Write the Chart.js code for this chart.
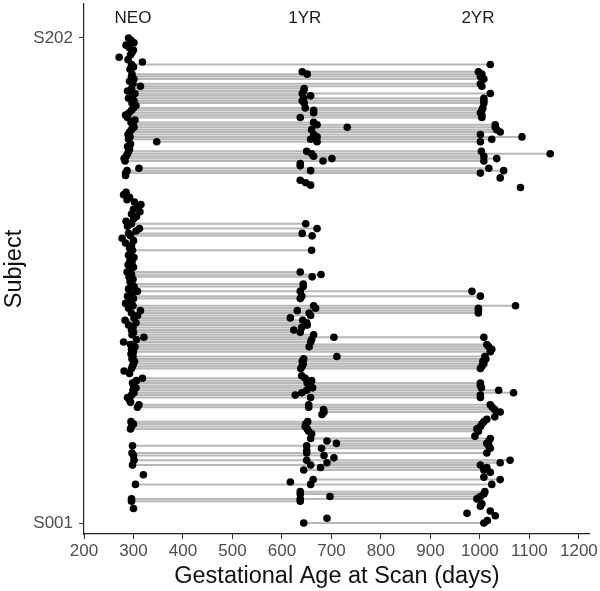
<!DOCTYPE html>
<html>
<head>
<meta charset="utf-8">
<script src="https://cdn.jsdelivr.net/npm/chart.js@4.4.0/dist/chart.umd.min.js"></script>
<style>
  body { margin: 0; background: #fff; }
  #wrap { width: 600px; height: 591px; }
</style>
</head>
<body>
<div id="wrap"><canvas id="scanChart" width="600" height="591"></canvas></div>
<script>
// Gestational age (days) at each scan, one entry per subject, index 0 = S001
const neoAge = [
  null, null, null, null, null, null, 300, null, null, 296,
  296, null, null, null, null, null, 304, null, null, null,
  320, null, null, null, 298, null, 301, null, 300, 297,
  null, null, 298, null, null, null, null, null, null, 294,
  296, 300, 295, null, null, null, null, null, 308, 311,
  294, 292, 288, 296, 301, 299, 305, 300, 298, 306,
  318, null, 292, 281, 296, 298, 300, 302, 297, 299,
  295, 300, 296, 303, 294, 280, 306, 321, 297, 300,
  296, 299, 290, 305, 283, 301, 308, 296, 314, 290,
  299, 284, 296, 300, 288, 297, 308, 290, 301, 297,
  293, 299, 291, 296, 287, 294, 300, 289, 297, 293,
  301, 290, 295, 298, 292, 296, 284, 300, 277, 294,
  290, 305, 312, 288, 296, 285, 300, 306, 296, 313,
  300, 310, 315, 302, 287, 292, 280, 285, null, null,
  null, null, null, null, 284, 284, 287, 311, null, null,
  283, 281, 285, 288, 290, 292, 288, 294, 347, 290,
  293, 289, 292, 296, 301, 299, 295, 303, 288, 284,
  291, 296, 300, 305, 297, 301, 290, 298, 303, 288,
  296, 314, 299, 292, 301, 296, 297, null, 293, 300,
  296, 318, 289, 271, 294, 297, 300, 291, 285, 301,
  295, 290
];
const yr1Age = [
  644, null, 691, null, null, null, null, null, null, 637,
  637, 697, 637, 637, null, null, 658, 617, 663, null,
  null, null, 644, 678, 658, 691, 650, 705, 685, 650,
  650, 680, 650, 710, 691, 658, null, 660, 654, 651,
  647, 648, 652, null, null, 681, 685, 684, 654, 654,
  null, null, 658, 627, 640, 650, 662, 655, 651, 660,
  647, 640, null, null, 638, 641, 643, 641, 644, 711,
  null, null, null, 655, null, 658, 660, 705, 664, 637,
  624, 640, 651, 650, 642, 617, 658, 655, 631, 668,
  664, null, null, 637, 640, null, 637, null, 643, 643,
  null, null, 661, 679, 637, null, null, null, null, null,
  null, null, null, 660, null, null, null, null, null, 661,
  641, null, 671, null, 648, null, null, null, null, null,
  null, null, null, null, null, null, null, null, null, null,
  658, 648, 637, null, null, null, 658, null, 637, 637,
  683, 701, 664, 660, 650, null, null, null, 671, 658,
  671, 664, null, 660, 732, 671, 664, null, 637, null,
  664, 664, 647, null, 645, 641, 644, 658, 641, 644,
  645, null, null, null, null, null, 651, 641, null, null,
  null, null, null, null, null, null, null, null, null, null,
  null, null
];
const yr2Age = [
  1008, 1015, null, 1031, 974, 1021, null, 1001, 1004, null,
  994, 1001, 1008, 1010, null, null, 1024, null, 1041, 1008,
  null, 1021, 1008, 1014, 1001, 1041, 1061, null, null, 1014,
  null, 1021, 1018, 1014, 1018, 1021, 990, null, 997, 994,
  1001, 1004, 1008, 1014, 1030, null, 1041, 1030, 1025, 1021,
  null, null, 1001, 1001, 1068, 1038, 1003, 1001, 1001, null,
  null, null, null, null, 1001, 1004, 1008, 1006, 1012, 1010,
  null, 1021, 1024, 1018, 1014, null, null, 1008, null, null,
  null, null, null, null, null, null, null, 997, 997, 997,
  1072, null, null, null, 1001, null, 984, null, null, null,
  null, null, null, null, null, null, null, null, null, null,
  null, null, null, null, null, null, null, null, null, null,
  null, null, null, null, null, null, null, null, null, null,
  null, null, null, null, null, null, null, null, null, 1082,
  null, null, null, 1041, null, 1001, 1048, 1018, null, null,
  1008, 1034, 1008, 1142, 1003, null, null, null, 1001, 1024,
  1085, 1001, 1041, 1034, 1031, 1031, null, null, 1004, 1004,
  1001, 1004, 1006, null, 1008, 1008, 1008, null, 1021, null,
  null, 1004, 1001, null, 1008, 1001, 1004, 997, null, null,
  1021, null, null, null, null, null, null, null, null, null,
  null, null
];

const phaseLabels = ['NEO', '1YR', '2YR'];
const phaseLabelAge = [299, 646, 996];
const phaseLabelRow = 210;

const xTickValues = [200, 300, 400, 500, 600, 700, 800, 900, 1000, 1100, 1200];
const yTickSubjects = [1, 202];

const FONT = '"Liberation Sans", Arial, Helvetica, sans-serif';

// build scan points and the grey span line of each subject
const scanPoints = [];
const spanLines = [];
for (let i = 0; i < neoAge.length; i++) {
    const row = i + 1;
    const ages = [neoAge[i], yr1Age[i], yr2Age[i]].filter(v => v !== null);
    ages.forEach(a => scanPoints.push({ x: a, y: row }));
    if (ages.length > 1) {
        const lo = Math.min(...ages);
        const hi = Math.max(...ages);
        spanLines.push({ x: lo, y: row });
        spanLines.push({ x: hi, y: row });
        spanLines.push({ x: hi, y: null }); // break before next subject
    }
}

function subjectName(n) {
    return 'S' + String(n).padStart(3, '0');
}

// NEO / 1YR / 2YR headers above the columns
const phaseLabelPlugin = {
    id: 'phaseLabels',
    afterDatasetsDraw(chart) {
        const { ctx, scales: { x, y } } = chart;
        ctx.save();
        ctx.font = '17px ' + FONT;
        ctx.fillStyle = '#1a1a1a';
        ctx.textAlign = 'center';
        ctx.textBaseline = 'middle';
        phaseLabels.forEach((text, k) => {
            ctx.fillText(text, x.getPixelForValue(phaseLabelAge[k]), y.getPixelForValue(phaseLabelRow));
        });
        ctx.restore();
    }
};

const ctx = document.getElementById('scanChart').getContext('2d');
new Chart(ctx, {
    type: 'scatter',
    data: {
        datasets: [{
            label: 'Scans',
            data: scanPoints,
            backgroundColor: '#000',
            borderColor: '#000',
            borderWidth: 0,
            pointRadius: 3.8,
            order: 1
        }, {
            label: 'Span',
            data: spanLines,
            showLine: true,
            spanGaps: false,
            borderColor: '#b8b8b8',
            borderWidth: 2,
            pointRadius: 0,
            order: 2
        }]
    },
    options: {
        responsive: false,
        animation: false,
        layout: { padding: { top: 3, right: 10, left: 0, bottom: 0 } },
        plugins: {
            legend: { display: false },
            tooltip: { enabled: false }
        },
        scales: {
            x: {
                type: 'linear',
                min: 200,
                max: 1222,
                afterBuildTicks: axis => { axis.ticks = xTickValues.map(v => ({ value: v })); },
                afterFit: axis => { axis.height = 57; },
                grid: { display: true, drawOnChartArea: false, drawTicks: true, tickLength: 5, color: '#333' },
                border: { display: true, color: '#222', width: 1.2 },
                ticks: {
                    color: '#4d4d4d',
                    font: { family: FONT, size: 17 },
                    padding: 2,
                    maxRotation: 0,
                    autoSkip: false,
                    callback: value => String(value)
                },
                title: {
                    display: true,
                    text: 'Gestational Age at Scan (days)',
                    color: '#111',
                    font: { family: FONT, size: 23.5 },
                    padding: { top: 0, bottom: 0 }
                }
            },
            y: {
                type: 'linear',
                min: -3.55,
                max: 216.06,
                afterBuildTicks: axis => { axis.ticks = yTickSubjects.map(v => ({ value: v })); },
                afterFit: axis => {
                    axis.width = 84;
                    axis.paddingTop = 0;
                    axis.paddingBottom = 0;
                },
                grid: { display: true, drawOnChartArea: false, drawTicks: true, tickLength: 5, color: '#333' },
                border: { display: true, color: '#222', width: 1.2 },
                ticks: {
                    color: '#4d4d4d',
                    font: { family: FONT, size: 17 },
                    padding: 6,
                    autoSkip: false,
                    callback: value => subjectName(value)
                },
                title: {
                    display: true,
                    text: 'Subject',
                    color: '#111',
                    font: { family: FONT, size: 23.5 },
                    padding: { top: 0, bottom: 0 }
                }
            }
        }
    },
    plugins: [phaseLabelPlugin]
});
</script>
</body>
</html>
